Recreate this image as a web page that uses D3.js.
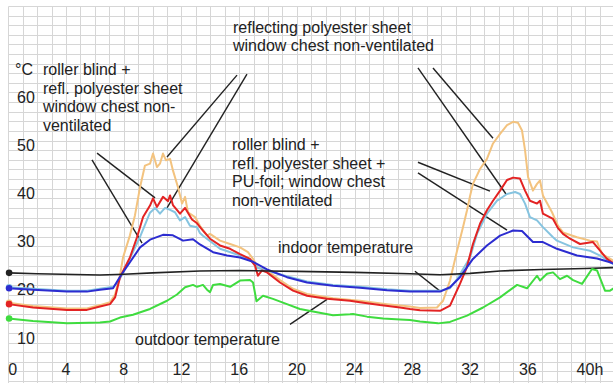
<!DOCTYPE html>
<html>
<head>
<meta charset="utf-8">
<script src="https://cdn.jsdelivr.net/npm/d3@7"></script>
<style>
  html, body { margin: 0; padding: 0; background: #fff; }
  svg { display: block; font-family: "Liberation Sans", Arial, sans-serif; }
</style>
</head>
<body>
<svg id="chart" width="613" height="383"></svg>
<script>
// Axis ticks
const xTicks = [0, 4, 8, 12, 16, 20, 24, 28, 32, 36, 40];
const xTickLabels = ["0", "4", "8", "12", "16", "20", "24", "28", "32", "36", "40h"];
const yTicks = [10, 20, 30, 40, 50, 60];
const yUnit = "°C";

// Measured temperatures, [hour, °C]
const reflSheet = [ // reflecting polyester sheet, window chest non-ventilated
  [0,17.3],[1.71,16.6],[4.07,16.1],[5.45,16.1],[6.35,16.8],[7.05,17.4],[7.40,19.0],[7.74,23.0],
  [7.95,26.7],[8.43,31.3],[8.78,35.5],[9.13,41.3],[9.47,45.8],[9.82,46.2],[10.03,48.3],[10.30,45.5],
  [10.51,46.2],[10.72,48.3],[10.93,46.9],[11.21,47.2],[11.41,44.8],[11.76,41.3],[12.04,37.9],[12.25,39.3],
  [12.45,36.1],[12.94,35.1],[13.28,33.3],[13.77,31.3],[13.98,31.6],[14.67,30.2],[15.37,29.5],[16.06,28.8],
  [16.61,27.8],[16.96,26.4],[17.30,24.6],[17.93,24.0],[18.83,22.0],[19.73,20.2],[20.70,19.1],[22.50,18.2],
  [24.37,17.7],[26.24,17.0],[27.84,16.5],[28.53,16.2],[29.71,16.3],[30.13,17.7],[30.61,21.9],[31.10,28.1],
  [31.51,33.0],[31.79,36.5],[32.00,39.5],[32.20,42.0],[32.69,45.1],[33.17,47.2],[33.59,50.4],[34.08,52.4],
  [34.56,54.2],[34.98,54.9],[35.32,54.7],[35.60,53.1],[35.81,49.0],[36.02,43.4],[36.36,40.6],[36.64,42.0],
  [36.85,42.7],[37.05,39.6],[37.68,36.1],[38.09,33.3],[38.44,31.9],[39.41,30.9],[40.31,30.2],[40.80,30.0],
  [41.15,27.4],[41.95,26.0]
];
const blindSheet = [ // roller blind + refl. polyester sheet
  [0,17.0],[1.71,16.3],[4.07,15.8],[5.45,15.8],[6.35,16.5],[7.05,17.0],[7.40,18.4],[7.74,22.6],
  [8.43,26.7],[8.92,30.9],[9.34,35.1],[9.82,37.5],[10.03,39.0],[10.30,37.2],[10.72,39.3],[11.07,38.4],
  [11.21,39.6],[11.41,37.6],[11.90,35.8],[12.25,37.0],[12.73,34.6],[13.08,33.8],[13.49,32.3],[13.98,30.6],
  [14.67,29.2],[15.37,28.5],[16.06,27.4],[16.75,26.4],[17.10,25.0],[17.30,22.9],[17.58,24.0],[17.93,23.6],
  [18.83,21.5],[19.73,19.8],[20.70,18.75],[22.09,18.1],[23.68,17.7],[24.37,17.4],[25.76,16.8],[27.15,16.3],
  [27.84,16.0],[28.53,15.75],[29.92,15.6],[30.61,16.7],[31.30,21.2],[31.77,24.6],[32.20,29.5],[32.69,33.7],
  [33.17,36.5],[33.59,38.5],[34.08,40.6],[34.56,42.8],[34.98,43.3],[35.46,43.1],[35.81,40.6],[36.15,38.5],
  [36.64,37.9],[36.85,38.5],[37.05,35.8],[37.75,34.7],[38.09,32.8],[38.44,31.6],[38.93,30.6],[39.62,29.5],
  [40.52,29.9],[41.01,28.1],[41.49,26.4],[41.95,25.5]
];
const sheetVent = [ // refl. polyester sheet, light blue
  [0,20.5],[1.71,20.2],[4.07,19.8],[5.45,19.8],[6.35,20.2],[7.26,20.6],[7.60,21.5],[7.95,23.5],
  [8.43,26.5],[9.13,31.0],[9.47,33.5],[9.82,36.0],[10.17,37.0],[10.51,35.8],[10.86,37.0],[11.21,36.6],
  [11.55,36.1],[11.90,34.4],[12.25,35.1],[12.59,33.3],[13.08,33.0],[13.28,31.8],[13.49,31.2],[14.67,28.5],
  [16.06,27.1],[16.75,26.2],[17.30,24.5],[17.93,24.0],[18.34,23.6],[19.31,22.8],[20.70,21.7],[22.50,21.0],
  [24.37,20.6],[26.24,20.1],[27.84,19.8],[28.53,19.8],[29.92,19.8],[30.61,20.3],[31.10,22.2],[32.00,26.7],
  [32.48,31.6],[33.17,35.8],[33.87,38.5],[34.08,38.9],[34.56,39.9],[35.12,40.3],[35.46,39.9],[35.81,37.9],
  [36.15,35.1],[36.64,34.4],[37.05,33.0],[37.75,30.9],[38.02,30.2],[39.14,28.8],[40.31,28.1],[41.01,27.1],
  [41.70,25.7],[41.95,25.3]
];
const blindFoil = [ // roller blind + refl. polyester sheet + PU-foil
  [0,20.3],[1.71,20.0],[4.07,19.6],[5.45,19.6],[6.35,20.0],[7.26,20.3],[7.74,22.7],[8.43,25.7],
  [9.13,28.8],[9.82,30.4],[10.72,31.4],[11.41,31.3],[12.11,30.2],[12.80,30.5],[13.28,29.4],[14.19,27.8],
  [15.16,27.1],[16.06,26.7],[16.96,25.8],[17.93,24.2],[19.31,22.6],[20.70,21.5],[22.50,20.8],[24.37,20.4],
  [26.24,19.9],[27.84,19.6],[28.53,19.6],[29.92,19.6],[30.61,20.5],[31.30,22.6],[32.20,26.4],[33.17,29.2],
  [34.08,31.25],[34.98,32.3],[35.60,32.2],[36.36,29.9],[37.05,29.9],[38.02,28.5],[39.41,27.1],[40.80,26.5],
  [41.70,25.7],[41.95,25.4]
];
const indoor = [
  [0,23.5],[2.0,23.3],[6.35,23.06],[8.0,23.2],[10.0,23.5],[13.28,23.9],[16.0,24.0],[18.0,23.9],
  [20.0,23.8],[24.0,23.6],[27.84,23.3],[29.92,23.1],[32.0,23.4],[34.08,23.9],[37.0,24.2],[40.0,24.4],
  [41.95,24.6]
];
const outdoor = [
  [0,14.0],[1.71,13.5],[4.07,13.0],[6.35,13.2],[7.05,13.4],[7.74,14.2],[8.64,14.8],[9.82,16.0],
  [11.0,17.7],[11.69,19.0],[12.25,20.5],[12.80,21.0],[13.08,20.6],[13.28,20.8],[13.49,21.0],[13.77,20.0],
  [13.98,19.5],[14.19,21.0],[14.67,21.2],[15.37,20.6],[16.06,21.9],[16.75,22.0],[16.96,21.5],[17.20,17.6],
  [17.65,18.75],[18.34,18.1],[19.31,17.0],[20.21,16.0],[21.39,15.3],[22.50,14.7],[23.68,14.9],[23.89,14.95],
  [24.86,14.4],[25.97,14.0],[27.15,13.8],[27.84,13.7],[28.53,13.4],[29.78,13.0],[30.61,13.3],[31.79,14.6],
  [32.90,16.3],[34.08,18.4],[35.26,21.0],[35.95,20.3],[36.64,22.9],[36.85,21.9],[37.33,23.3],[37.75,23.6],
  [38.23,22.2],[38.72,22.9],[39.14,22.0],[39.76,21.2],[40.45,24.3],[40.80,24.0],[41.35,19.8],[41.70,19.8],
  [41.95,20.3]
];

const seriesColors = ["#f3c37f", "#86c4e0", "#e32323", "#2c2cd0", "#222222", "#3fdc3f"];
const seriesNames = ["reflecting polyester sheet", "refl. polyester sheet", "roller blind + refl. polyester sheet",
  "roller blind + refl. polyester sheet + PU-foil", "indoor temperature", "outdoor temperature"];
const seriesData = [reflSheet, sheetVent, blindSheet, blindFoil, indoor, outdoor];

// Annotation texts, anchored at [hour, °C] of the first baseline
const notes = [
  { at: [2.4, 64.6], lines: ["roller blind +", "refl. polyester sheet", "window chest non-", "ventilated"] },
  { at: [15.57, 73.4], lines: ["reflecting polyester sheet", "window chest non-ventilated"] },
  { at: [15.5, 49.0], lines: ["roller blind +", "refl. polyester sheet +", "PU-foil; window chest", "non-ventilated"] },
  { at: [18.69, 27.6], lines: ["indoor temperature"] },
  { at: [8.78, 8.5], lines: ["outdoor temperature"] }
];
// Leader lines, [hour, °C] -> [hour, °C]
const leaders = [
  [[6.15, 48.4], [10.17, 39.1]],
  [[5.80, 47.0], [9.27, 29.7]],
  [[15.85, 64.6], [11.0, 47.6]],
  [[16.54, 64.8], [11.0, 37.0]],
  [[29.43, 66.1], [33.59, 51.5]],
  [[28.39, 66.1], [34.49, 39.9]],
  [[28.39, 46.5], [33.38, 40.5]],
  [[28.39, 44.3], [34.56, 32.4]],
  [[28.18, 23.85], [29.92, 19.7]],
  [[19.52, 12.8], [22.09, 18.0]]
];

const W = 613, H = 383;
const x = d3.scaleLinear().domain([0, 42]).range([8.3, 8.3 + 42 * 14.43]);
const y = d3.scaleLinear().domain([0, 79]).range([385.9, 5.9]);

const svg = d3.select("#chart");
svg.append("rect").attr("width", W).attr("height", H).attr("fill", "#fff");

// graph-paper grid: one column per hour, one row per 2 °C (odd values)
const grid = svg.append("g").attr("stroke", "#d6d6d6").attr("stroke-width", 1);
const hourLines = d3.range(0, 42);
grid.selectAll("line.v").data(hourLines).join("line").attr("class", "v")
  .attr("x1", d => Math.round(x(d)) + 0.5).attr("x2", d => Math.round(x(d)) + 0.5)
  .attr("y1", Math.round(y(79)) + 0.5).attr("y2", H);
const rowLines = d3.range(1, 80, 2);
grid.selectAll("line.h").data(rowLines).join("line").attr("class", "h")
  .attr("y1", d => Math.round(y(d)) + 0.5).attr("y2", d => Math.round(y(d)) + 0.5)
  .attr("x1", Math.round(x(0)) + 0.5).attr("x2", W);

// tick labels
const labels = svg.append("g").attr("fill", "#222").attr("font-size", 16);
labels.selectAll("text.yt").data(yTicks).join("text").attr("class", "yt")
  .attr("x", 26).attr("y", d => y(d)).attr("dy", "0.36em").attr("text-anchor", "middle")
  .text(d => d);
labels.append("text").attr("x", 15).attr("y", y(64.6)).text(yUnit);
labels.selectAll("text.xt").data(xTicks).join("text").attr("class", "xt")
  .attr("x", (d, i) => i === 0 ? x(d) : x(d) - (i === xTicks.length - 1 ? 8.9 : 0))
  .attr("y", 374.5)
  .attr("text-anchor", (d, i) => (i === 0 || i === xTicks.length - 1) ? "start" : "middle")
  .text((d, i) => xTickLabels[i]);

// annotations
const ann = svg.append("g").attr("fill", "#222").attr("font-size", 16);
notes.forEach(n => {
  const t = ann.append("text").attr("x", x(n.at[0])).attr("y", y(n.at[1]));
  n.lines.forEach((s, i) => t.append("tspan").attr("x", x(n.at[0])).attr("dy", i === 0 ? 0 : 18.5).text(s));
});
svg.append("g").attr("stroke", "#222").attr("stroke-width", 1.4)
  .selectAll("line").data(leaders).join("line")
  .attr("x1", d => x(d[0][0])).attr("y1", d => y(d[0][1]))
  .attr("x2", d => x(d[1][0])).attr("y2", d => y(d[1][1]));

// temperature curves
const line = d3.line().x(d => x(d[0])).y(d => y(d[1]));
const curves = svg.append("g").attr("fill", "none").attr("stroke-linejoin", "round");
seriesData.forEach((data, i) => {
  curves.append("path").datum(data).attr("d", line)
    .attr("stroke", seriesColors[i]).attr("stroke-width", i === 4 ? 1.6 : 2)
    .attr("aria-label", seriesNames[i]);
});
// start markers
svg.append("g").selectAll("circle").data(seriesData).join("circle")
  .attr("cx", d => x(d[0][0]) + 0.8).attr("cy", d => y(d[0][1])).attr("r", 3.3)
  .attr("fill", (d, i) => seriesColors[i]);
</script>
</body>
</html>
